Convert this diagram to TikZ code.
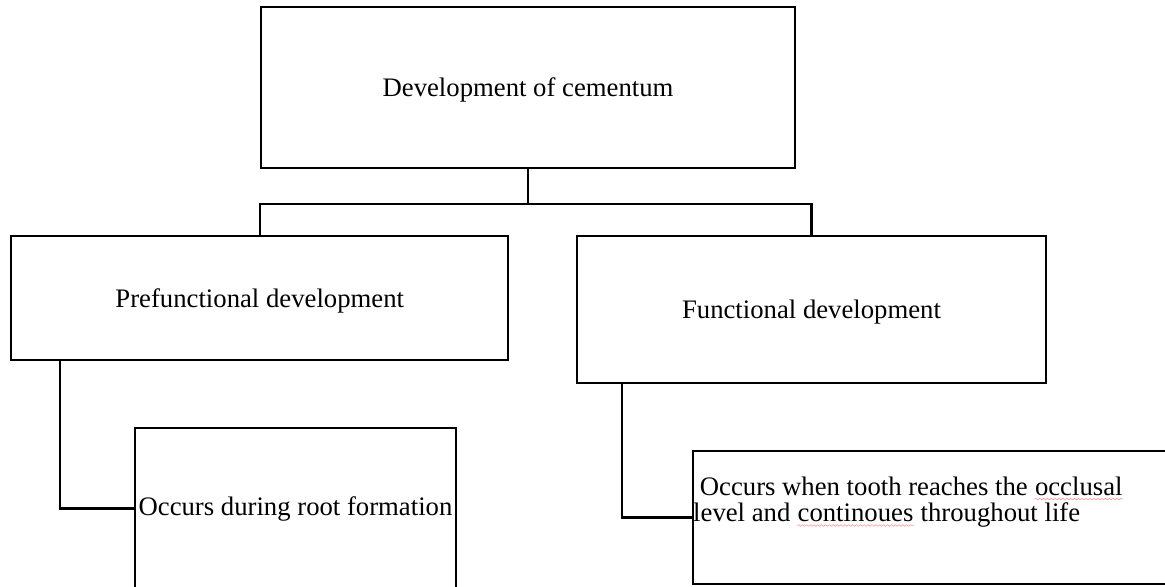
\documentclass[tikz,border=0pt]{standalone}
\usepackage{fontspec}
\setmainfont{Liberation Serif}
\usetikzlibrary{positioning,decorations.pathmorphing}

% red wavy line under misspelt words
\newcommand\spellmark[1]{\tikz[baseline=(sw.base)]{\node[inner sep=0] (sw) {#1};
    \draw[red!45, line width=0.3pt, decorate, decoration={snake, amplitude=0.45pt, segment length=2.2pt}]
        ([yshift=-2.2pt]sw.base west) -- ([yshift=-2.2pt]sw.base east);}}

\begin{document}
\begin{tikzpicture}[
    words/.style={font=\fontsize{15.2}{15}\selectfont},
    box/.style={draw, line width=1.3pt, inner sep=2pt, words},
    level/.style={text depth=0pt},
    link/.style={line width=1.3pt}
]
\useasboundingbox (0,0) rectangle (23.3,-11.72);
\clip (0,0) rectangle (23.3,-11.72);

\node[box, level, minimum width=10.68cm, minimum height=3.22cm] (cementum) at (10.56,-1.75) {Development of cementum};
\node[box, level, minimum width=9.94cm, minimum height=2.48cm] (prefunc) at (5.195,-5.96) {Prefunctional development};
\node[box, level, minimum width=9.38cm, minimum height=2.94cm] (func) at (16.23,-6.19) {Functional development};
\node[box, minimum width=6.42cm, minimum height=3.22cm] (early) at (5.91,-10.17) {Occurs during root formation};
\node[box, minimum width=9.84cm, minimum height=2.66cm] (late) at (18.78,-10.35) {};
\node[words, align=left, inner sep=0, below right=0.53cm and 0.02cm of late.north west] (latetext)
    {\hspace*{0.25em}Occurs when tooth reaches the \spellmark{occlusal}\\level and \spellmark{continoues} throughout life};

% tree lines
\coordinate (split) at ([yshift=-0.7cm]cementum.south);
\draw[link] (cementum.south) -- (split);
\draw[link] (split) -| (prefunc.north);
\draw[link] (split) -| (func.north);
\draw[link] ([xshift=1cm]prefunc.south west) |- (early.west);
\draw[link] ([xshift=0.92cm]func.south west) |- (late.west);
\end{tikzpicture}
\end{document}
